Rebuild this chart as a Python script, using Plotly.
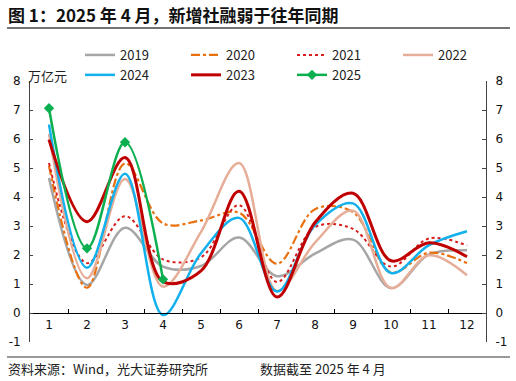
import plotly.graph_objects as go

months = ["1", "2", "3", "4", "5", "6", "7", "8", "9", "10", "11", "12"]
s2019 = [4.66, 0.97, 2.94, 1.60, 1.62, 2.60, 1.27, 2.05, 2.53, 0.86, 2.02, 2.16]
s2020 = [5.07, 0.87, 5.16, 3.09, 3.19, 3.46, 1.70, 3.58, 3.48, 1.40, 2.08, 1.72]
s2021 = [5.17, 1.72, 3.34, 1.85, 1.92, 3.72, 1.07, 2.96, 2.90, 1.60, 2.57, 2.33]
s2022 = [6.17, 1.20, 4.62, 0.91, 2.80, 5.17, 0.76, 2.43, 3.53, 0.86, 1.99, 1.30]
s2023 = [5.98, 3.15, 5.36, 1.08, 1.45, 4.20, 0.55, 3.12, 4.13, 1.80, 2.42, 1.94]
s2024 = [6.50, 1.56, 4.80, -0.07, 2.06, 3.28, 0.74, 3.03, 3.78, 1.38, 2.34, 2.82]
s2025 = [7.06, 2.23, 5.89, 1.16]
y_ticks = [-1, 0, 1, 2, 3, 4, 5, 6, 7, 8]
y_tick_labels = ["-1", "0", "1", "2", "3", "4", "5", "6", "7", "8"]

series = [
    ("2019", s2019, "#A6A6A6", "solid", 2.5),
    ("2020", s2020, "#E8700F", "dashdot", 2.2),
    ("2021", s2021, "#D81E1E", "dot", 2),
    ("2022", s2022, "#E6AE98", "solid", 2.5),
    ("2024", s2024, "#12B0EC", "solid", 2.5),
    ("2023", s2023, "#C00000", "solid", 3),
    ("2025", s2025, "#0BAF50", "solid", 2.5),
]

fig = go.Figure()
for name, vals, color, dash, w in series:
    if name == "2025":
        kw = dict(mode="lines+markers",
                  marker=dict(symbol="diamond", size=8, color=color))
    else:
        kw = dict(mode="lines")
    fig.add_trace(go.Scatter(
        x=months[:len(vals)], y=vals, name=name,
        line=dict(color=color, width=w, dash=dash, shape="spline", smoothing=1.0),
        **kw))

# invisible trace for the right axis
fig.add_trace(go.Scatter(x=months, y=[None] * 12, yaxis="y2", showlegend=False,
                         hoverinfo="skip", mode="lines"))

L, R, T, B = 30, 30, 81, 39
W, H = 516, 381
pw, ph = W - L - R, H - T - B

def px(x):
    return (x - L) / pw

def py(y):
    return (H - B - y) / ph

axis_font = dict(family="DejaVu Sans", size=12, color="#111")

fig.update_layout(
    width=W, height=H,
    margin=dict(l=L, r=R, t=T, b=B, autoexpand=False),
    paper_bgcolor="white", plot_bgcolor="white",
    font=dict(family="Noto Sans CJK SC", size=12, color="#111"),
    xaxis=dict(type="category", categoryorder="array", categoryarray=months,
               range=[-0.5, 11.5], showgrid=False, zeroline=False,
               showline=True, linecolor="#000", linewidth=1.3,
               anchor="free", position=1 / 9,
               ticks="inside", tickson="boundaries", ticklen=4, tickcolor="#000",
               tickfont=axis_font),
    yaxis=dict(range=[-1, 8], tickmode="array", tickvals=y_ticks,
               ticktext=y_tick_labels,
               showgrid=False, zeroline=False, showline=True,
               linecolor="#444", linewidth=1, ticks="inside", ticklen=3,
               tickcolor="#444", tickfont=axis_font, ticklabelstandoff=6),
    yaxis2=dict(range=[-1, 8], tickmode="array", tickvals=y_ticks,
                ticktext=y_tick_labels,
                overlaying="y", side="right", showgrid=False, zeroline=False,
                showline=True, linecolor="#444", linewidth=1, ticks="inside",
                ticklen=4, tickcolor="#444", tickfont=axis_font,
                ticklabelstandoff=6),
    legend=dict(orientation="h", x=px(80), y=py(40), xanchor="left", yanchor="top",
                entrywidth=61, entrywidthmode="pixels", traceorder="normal",
                font=dict(family="Noto Sans CJK SC", size=13, color="#222"),
                bgcolor="rgba(0,0,0,0)", itemwidth=30, tracegroupgap=0),
    showlegend=True,
)

# title and decoration
fig.add_annotation(text="<b>图 1：2025 年 4 月，新增社融弱于往年同期</b>",
                   xref="paper", yref="paper", x=px(6), y=py(14),
                   xanchor="left", yanchor="middle", showarrow=False,
                   font=dict(family="Noto Sans CJK SC", size=17, color="#111"))
fig.add_shape(type="line", xref="paper", yref="paper",
              x0=px(7), x1=px(510), y0=py(28), y1=py(28),
              line=dict(color="#444", width=1.5))
fig.add_shape(type="line", xref="paper", yref="paper",
              x0=px(7), x1=px(510), y0=py(357), y1=py(357),
              line=dict(color="#777", width=1.5))
fig.add_annotation(text="万亿元", xref="paper", yref="paper",
                   x=px(26), y=py(75), xanchor="left", yanchor="middle",
                   showarrow=False,
                   font=dict(family="Noto Sans CJK SC", size=13, color="#222"))
fig.add_annotation(text="资料来源：Wind，光大证券研究所", xref="paper", yref="paper",
                   x=px(6), y=py(368), xanchor="left", yanchor="middle",
                   showarrow=False,
                   font=dict(family="Noto Sans CJK SC", size=13, color="#222"))
fig.add_annotation(text="数据截至 2025 年 4 月", xref="paper", yref="paper",
                   x=px(258), y=py(368), xanchor="left", yanchor="middle",
                   showarrow=False,
                   font=dict(family="Noto Sans CJK SC", size=13, color="#222"))

fig.write_html("out.html",
               config={"displayModeBar": False},
               post_script="document.body.style.margin='0';"
                           "document.body.style.overflow='hidden';")
